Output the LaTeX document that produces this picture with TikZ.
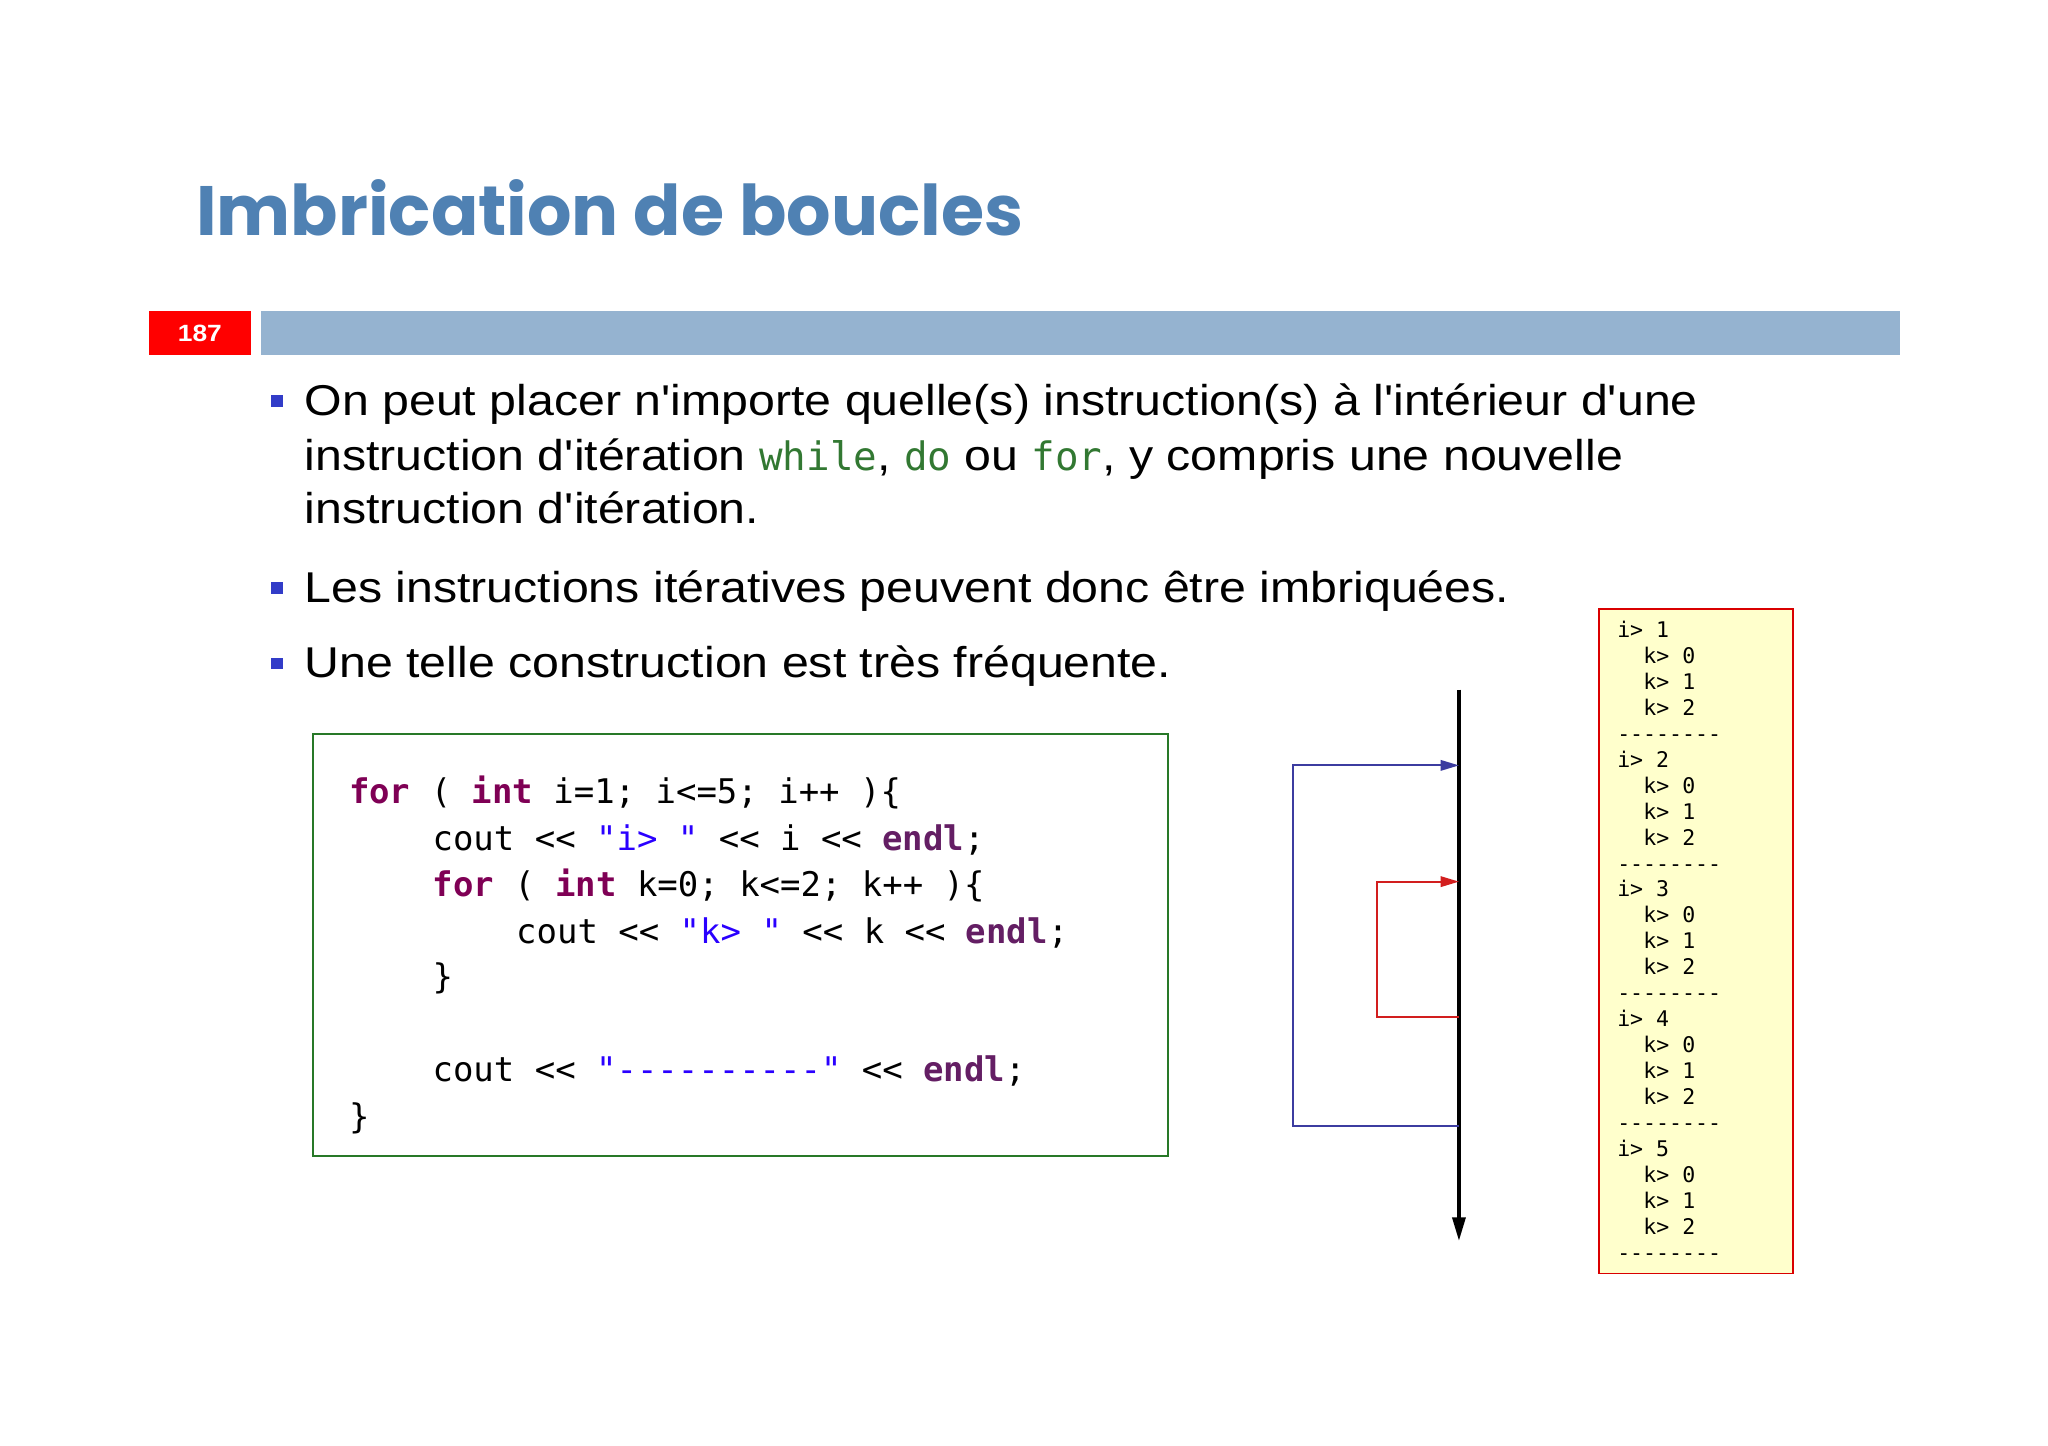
\documentclass[tikz,border=0pt]{standalone}
\usepackage{fontspec}
\setmainfont{Liberation Sans}[Ligatures=TeXOff,FakeStretch=1.12]
\newfontfamily\titlefont{Poppins}
\setmonofont{DejaVu Sans Mono}
\usetikzlibrary{arrows.meta}
\definecolor{titleblue}{RGB}{79,129,179}
\definecolor{barblue}{RGB}{149,179,208}
\definecolor{kw}{RGB}{127,0,85}
\definecolor{endlc}{RGB}{100,30,100}
\definecolor{strc}{RGB}{42,0,255}
\definecolor{inl}{RGB}{50,120,50}
\definecolor{bul}{RGB}{50,60,200}
\definecolor{outbg}{RGB}{255,255,204}
\definecolor{flowblue}{RGB}{60,60,160}
\definecolor{flowred}{RGB}{210,30,30}
\definecolor{boxgreen}{RGB}{40,120,40}
\tikzset{
  bl/.style={anchor=base west,inner sep=0pt,font=\fontsize{33}{38}\selectfont},
  cl/.style={anchor=base west,inner sep=0pt,font=\fontsize{26}{30}\ttfamily},
  ol/.style={anchor=base west,inner sep=0pt,font=\fontsize{16.5}{20}\ttfamily},
  bsq/.style={fill=bul,minimum size=9pt,inner sep=0pt},
}
\newcommand{\kwd}[1]{\textcolor{kw}{\bfseries #1}}
\newcommand{\ekw}[1]{\textcolor{endlc}{\bfseries #1}}
\newcommand{\strg}[1]{\textcolor{strc}{#1}}
\newcommand{\icode}[1]{\textcolor{inl}{\ttfamily\fontsize{30}{36}\selectfont #1}}
\begin{document}
\begin{tikzpicture}[x=1pt,y=-1pt]
\useasboundingbox (0,0) rectangle (1568,1107);
\node[anchor=base west,inner sep=0pt,text=titleblue,font=\titlefont\bfseries\fontsize{53.5}{60}\selectfont] (title) at (150,180) {Imbrication de boucles};
\node[fill=red,minimum width=78pt,minimum height=34pt,inner sep=0pt,text=white,font=\bfseries\fontsize{18}{20}\selectfont] (num) at (153,255) {187};
\node[fill=barblue,minimum width=1255pt,minimum height=34pt,inner sep=0pt] (bar) at (827.5,255) {};
% bullets
\node[bsq] (b1) at (212,307) {};
\node[bl] (t1a) at (233,318) {On peut placer n'importe quelle(s) instruction(s) à l'intérieur d'une};
\node[bl] (t1b) at (233,360) {instruction d'itération \icode{while}, \icode{do} ou \icode{for}, y compris une nouvelle};
\node[bl] (t1c) at (233,401) {instruction d'itération.};
\node[bsq] (b2) at (212,450) {};
\node[bl] (t2) at (233,461) {Les instructions itératives peuvent donc être imbriquées.};
\node[bsq] (b3) at (212,508) {};
\node[bl] (t3) at (233,519) {Une telle construction est très fréquente.};
% code box
\draw[boxgreen,line width=1.5pt] (240,562) rectangle (894,885);
\node[cl] (c1) at (267,615) {\kwd{for} ( \kwd{int} i=1; i<=5; i++ )\{};
\node[cl] (c2) at (331,651) {cout << \strg{"i> "} << i << \ekw{endl};};
\node[cl] (c3) at (331,686) {\kwd{for} ( \kwd{int} k=0; k<=2; k++ )\{};
\node[cl] (c4) at (395,722) {cout << \strg{"k> "} << k << \ekw{endl};};
\node[cl] (c5) at (331,757) {\}};
\node[cl] (c6) at (331,828) {cout << \strg{"----------"} << \ekw{endl};};
\node[cl] (c7) at (267,864) {\}};
% flow
\coordinate (top) at (1117,528);
\coordinate (bot) at (1117,950);
\draw[line width=2.5pt,-{Triangle[length=18pt,width=10pt]}] (top) -- (bot);
\coordinate (bs) at (1117,862);
\coordinate (be) at (1117,586);
\draw[flowblue,line width=1.5pt,-{Triangle[length=14pt,width=8pt]}] (bs) -- (990,862) -- (990,586) -- (be);
\coordinate (rs) at (1117,779);
\coordinate (re) at (1117,675);
\draw[flowred,line width=1.5pt,-{Triangle[length=14pt,width=8pt]}] (rs) -- (1054,779) -- (1054,675) -- (re);
% output
\draw[red!85!black,line width=1.5pt,fill=outbg] (1224,466) rectangle (1373,975);
\foreach \n in {1,...,5}{
  \pgfmathsetmacro{\yy}{488+(\n-1)*5*19.875}
  \node[ol] (oi\n) at (1238,\yy) {i> \n};
  \foreach \k in {0,1,2}{
    \pgfmathsetmacro{\yk}{\yy+(\k+1)*19.875}
    \node[ol] (ok\n\k) at (1258,\yk) {k> \k};
  }
  \pgfmathsetmacro{\yd}{\yy+4*19.875}
  \node[ol] (od\n) at (1238,\yd) {--------};
}
\end{tikzpicture}
\end{document}
